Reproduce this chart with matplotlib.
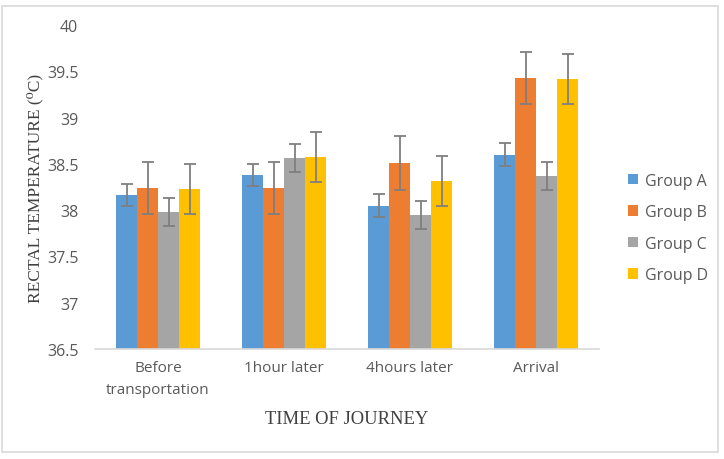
import matplotlib
matplotlib.use("Agg")
import matplotlib.pyplot as plt
import numpy as np
from matplotlib.patches import Rectangle

categories = ["Before\ntransportation", "1hour later", "4hours later", "Arrival"]
groups = ["Group A", "Group B", "Group C", "Group D"]
means = {
    "Group A": [38.16, 38.38, 38.05, 38.60],
    "Group B": [38.24, 38.24, 38.51, 39.43],
    "Group C": [37.98, 38.56, 37.95, 38.37],
    "Group D": [38.23, 38.57, 38.32, 39.42],
}
errors = {
    "Group A": [0.12, 0.12, 0.12, 0.12],
    "Group B": [0.28, 0.28, 0.29, 0.28],
    "Group C": [0.15, 0.15, 0.15, 0.15],
    "Group D": [0.27, 0.27, 0.27, 0.27],
}
yticks = [36.5, 37, 37.5, 38, 38.5, 39, 39.5, 40]
ytick_labels = ["36.5", "37", "37.5", "38", "38.5", "39", "39.5", "40"]
colors = ["#5B9BD5", "#ED7D31", "#A5A5A5", "#FFC000"]

sans = ["Open Sans", "DejaVu Sans"]
serif = ["Liberation Serif", "DejaVu Serif"]
tick_color = "#595959"

fig = plt.figure(figsize=(7.24, 4.6), dpi=100)
fig.patches.append(Rectangle((1.5/724, 1 - 452.5/460), 716/724, 446/460,
                             transform=fig.transFigure, fill=False,
                             edgecolor="#D9D9D9", linewidth=1.2))
ax = fig.add_axes([95/724, 1 - 350/460, 504/724, 324/460])

x = np.arange(len(categories))
bw = 1/6
for i, g in enumerate(groups):
    pos = x - 1.5*bw + i*bw
    ax.bar(pos, np.array(means[g]) - 36.5, bottom=36.5, width=bw,
           color=colors[i], label=g, zorder=2)
    ax.errorbar(pos, means[g], yerr=errors[g], fmt="none", ecolor="#7F7F7F",
                elinewidth=1.3, capsize=4, capthick=1.3, zorder=3)

ax.set_xlim(-0.5, len(categories) - 0.5)
ax.set_ylim(36.5, 40)
ax.set_yticks(yticks)
ax.set_yticklabels(ytick_labels, fontfamily=sans, fontsize=11.5, color=tick_color)
ax.set_xticks(x)
ax.set_xticklabels(categories, fontfamily=sans, fontsize=11, color=tick_color,
                   linespacing=1.65)
ax.tick_params(axis="both", length=0)
ax.tick_params(axis="y", pad=12)
ax.tick_params(axis="x", pad=8)
for s in ["top", "right", "left"]:
    ax.spines[s].set_visible(False)
ax.spines["bottom"].set_color("#D9D9D9")
ax.spines["bottom"].set_linewidth(1.2)
ax.spines["bottom"].set_zorder(4)

fig.text(35/724, 1 - 188/460, "RECTAL TEMPERATURE (\u2070C)", rotation=90,
         ha="center", va="center", fontsize=12.5, family=serif, color="#404040")
fig.text(347/724, 1 - 420/460, "TIME OF JOURNEY", ha="center", va="center",
         fontsize=13.4, family=serif, color="#404040")

leg = ax.legend(loc="center left", bbox_to_anchor=((628 - 95)/504, (350 - 229)/324),
                frameon=False, prop={"family": sans, "size": 11.5},
                handlelength=0.65, handleheight=0.65, handletextpad=0.4,
                labelspacing=0.97, borderaxespad=0, borderpad=0)
for t in leg.get_texts():
    t.set_color(tick_color)

fig.savefig("out.png", dpi=100)
